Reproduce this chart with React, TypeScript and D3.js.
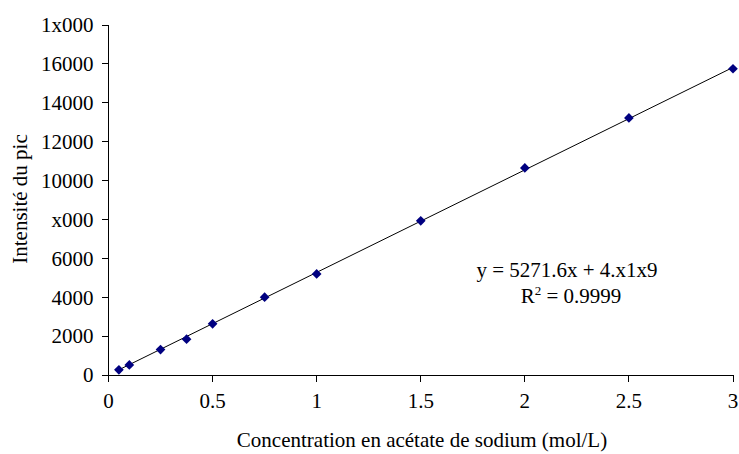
import * as d3 from 'd3';

const concentrations = [0.05, 0.1, 0.25, 0.375, 0.5, 0.75, 1, 1.5, 2, 2.5, 3];
const intensities = [265, 520, 1310, 1840, 2630, 4000, 5200, 7930, 10650, 13220, 15750];

const xTicks = [0, 0.5, 1, 1.5, 2, 2.5, 3];
const xTickLabels = ['0', '0.5', '1', '1.5', '2', '2.5', '3'];
const yTicks = [0, 2000, 4000, 6000, 8000, 10000, 12000, 14000, 16000, 18000];
const yTickLabels = ['0', '2000', '4000', '6000', 'x000', '10000', '12000', '14000', '16000', '1x000'];

const slope = 5271.6;
const intercept = 4.8;
const equationText = 'y = 5271.6x + 4.x1x9';
const r2Value = '0.9999';

const width = 739;
const height = 454;
const margin = { top: 25, right: 6, bottom: 79, left: 108.5 };
const font = '"Liberation Serif", "Times New Roman", serif';
const fs = 21;

export default function App() {
  const innerW = width - margin.left - margin.right;
  const innerH = height - margin.top - margin.bottom;

  const x = d3.scaleLinear().domain([0, 3]).range([0, innerW]);
  const y = d3.scaleLinear().domain([0, 18000]).range([innerH, 0]);

  const xMin = d3.min(concentrations) ?? 0;
  const xMax = d3.max(concentrations) ?? 3;
  const fitLine = d3.line<number>()
    .x(d => x(d))
    .y(d => y(slope * d + intercept));

  const diamond = d3.symbol().type(d3.symbolDiamond2).size(60)() || '';

  return (
    <div style={{ position: 'absolute', left: 0, top: 0 }}>
      <svg width={width} height={height} style={{ display: 'block', background: '#fff' }}>
        <g transform={`translate(${margin.left},${margin.top})`} fontFamily={font}>
          {/* axes */}
          <line x1={0} x2={0} y1={0} y2={innerH} stroke="#000" strokeWidth={1} shapeRendering="crispEdges" />
          <line x1={0} x2={innerW} y1={innerH} y2={innerH} stroke="#000" strokeWidth={1} shapeRendering="crispEdges" />

          {yTicks.map((t, i) => (
            <g key={t} transform={`translate(0,${y(t)})`}>
              <line x1={-7} x2={0} stroke="#000" shapeRendering="crispEdges" />
              <text x={-15} dy="0.35em" textAnchor="end" fontSize={fs}>{yTickLabels[i]}</text>
            </g>
          ))}

          {xTicks.map((t, i) => (
            <g key={t} transform={`translate(${x(t)},${innerH})`}>
              <line y1={0} y2={7} stroke="#000" shapeRendering="crispEdges" />
              <text y={33} textAnchor="middle" fontSize={fs}>{xTickLabels[i]}</text>
            </g>
          ))}

          {/* trendline */}
          <path d={fitLine([xMin, xMax]) || ''} fill="none" stroke="#000" strokeWidth={1} />

          {/* points */}
          {concentrations.map((c, i) => (
            <path key={c} d={diamond} transform={`translate(${x(c)},${y(intensities[i])})`} fill="#000080" />
          ))}

          {/* equation */}
          <text x={567 - margin.left} y={277 - margin.top} textAnchor="middle" fontSize={fs}>{equationText}</text>
          <text x={571 - margin.left} y={303 - margin.top} textAnchor="middle" fontSize={fs}>
            R<tspan dy={-8} fontSize={13}>2</tspan><tspan dy={8}> = {r2Value}</tspan>
          </text>
        </g>

        {/* axis titles */}
        <text x={422} y={447} textAnchor="middle" fontFamily={font} fontSize={fs}>
          Concentration en acétate de sodium (mol/L)
        </text>
        <text transform="translate(27,199) rotate(-90)" textAnchor="middle" fontFamily={font} fontSize={fs}>
          Intensité du pic
        </text>
      </svg>
    </div>
  );
}
